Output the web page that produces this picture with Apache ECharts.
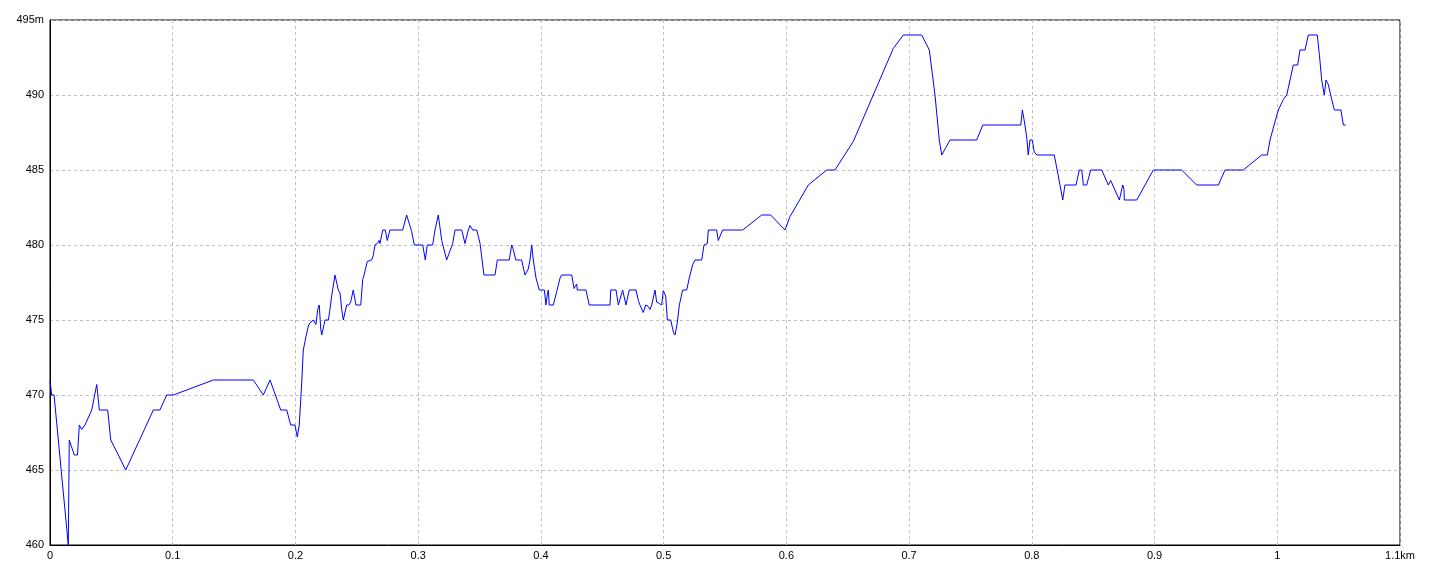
<!DOCTYPE html>
<html>
<head>
<meta charset="utf-8">
<script src="https://cdn.jsdelivr.net/npm/echarts@6/dist/echarts.min.js"></script>
<style>
html,body{margin:0;padding:0;background:#fff;}
#chart{width:1440px;height:576px;}
</style>
</head>
<body>
<div id="chart"></div>
<script>
// Distance along the track (km)
const distKm = [
0,0.0014,0.0033,0.0149,0.0157,0.0198,0.0224,0.0239,0.0258,0.0285,0.0340,0.0381,0.0402,0.0470,0.0495,0.0557,0.0617,0.0842,0.0896,0.0951,0.1005,0.1331,0.1657,0.1738,0.1793,0.1880,0.1929,0.1961,0.1996,0.2015,0.2031,0.2051,0.2059,0.2064,0.2086,0.2105,0.2118,0.2145,0.2167,0.2181,0.2194,0.2206,0.2214,0.2233,0.2241,0.2268,0.2281,0.2295,0.2322,0.2349,0.2363,0.2377,0.2390,0.2406,0.2417,0.2436,0.2450,0.2471,0.2493,0.2532,0.2548,0.2559,0.2575,0.2585,0.2621,0.2634,0.2648,0.2667,0.2681,0.2689,0.2711,0.2732,0.2748,0.2770,0.2874,0.2906,0.2919,0.2947,0.2968,0.3037,0.3058,0.3074,0.3118,0.3137,0.3164,0.3192,0.3232,0.3245,0.3281,0.3300,0.3355,0.3381,0.3408,0.3422,0.3444,0.3477,0.3504,0.3536,0.3626,0.3645,0.3742,0.3762,0.3775,0.3795,0.3843,0.3870,0.3897,0.3911,0.3925,0.3938,0.3960,0.3987,0.4028,0.4041,0.4052,0.4060,0.4068,0.4101,0.4129,0.4156,0.4169,0.4251,0.4270,0.4278,0.4292,0.4296,0.4367,0.4394,0.4563,0.4569,0.4612,0.4631,0.4666,0.4693,0.4720,0.4775,0.4794,0.4807,0.4834,0.4854,0.4875,0.4889,0.4903,0.4916,0.4930,0.4943,0.4965,0.4984,0.4997,0.5017,0.5030,0.5058,0.5079,0.5093,0.5111,0.5128,0.5155,0.5188,0.5209,0.5237,0.5256,0.5310,0.5329,0.5356,0.5364,0.5432,0.5445,0.5481,0.5644,0.5799,0.5872,0.5989,0.6030,0.6179,0.6329,0.6396,0.6545,0.6708,0.6871,0.6953,0.7103,0.7165,0.7211,0.7246,0.7266,0.7333,0.7551,0.7600,0.7910,0.7923,0.7944,0.7958,0.7971,0.7985,0.8004,0.8020,0.8040,0.8183,0.8216,0.8252,0.8270,0.8360,0.8387,0.8407,0.8420,0.8447,0.8480,0.8570,0.8623,0.8643,0.8713,0.8741,0.8751,0.8754,0.8855,0.8990,0.9221,0.9343,0.9520,0.9574,0.9723,0.9873,0.9919,0.9941,0.9974,1.0009,1.0049,1.0077,1.0104,1.0131,1.0166,1.0185,1.0226,1.0253,1.0326,1.0343,1.0362,1.0383,1.0397,1.0416,1.0435,1.0465,1.0519,1.0538,1.0558
];
// Elevation (m)
const elevM = [
471,470,470,460,467,466,466,468,467.7,468,469,470.7,469,469,467,466,465,469,469,470,470,471,471,470,471,469,469,468,468,467.2,468,470.8,472.2,473,473.9,474.6,474.8,475,474.7,475.7,476,474.4,474,474.7,475,475,475.7,476.6,478,477,476.8,475.7,475,475,476,476,476.2,477,476,476,477.7,478,478,478.9,479,479.3,480,480.1,480.3,480.1,481,481,480.3,481,481,482,481.9,480.9,480,480,479,480,480,481,482,480.3,479,479,480.1,481,481,480.1,481,481.3,481,481,480.1,478,478,479,479,480,479.7,479,479,478,478.4,479,480,479,477.8,477,477,476,476.7,477,476,476,476.9,477.8,478,478,477.1,477,477.4,477,477,476,476,477,477,476,477,476,477,477,476.3,476,475.5,476,475.9,475.7,476,476,477,476.2,476.1,476,476.95,476.6,475,475,474.2,474,474.8,476,477,477,477.8,478.7,479,479,480,480.1,481,481,480.3,481,481,482,482,481,481.9,484,485,485,486.9,490,493.1,494,494,493,490,487,486,487,487,488,488,489,488,487.2,486,487,487,486.2,486,486,484.6,483,484,484,485,485,484,484,485,485,484,484.3,483,484,483.7,483,483,485,485,484,484,485,485,486,486,487,488,489,489.7,490,491,492,492,493,493,494,494,492.7,491,490,491,490.7,490,489,489,488,488
];
// Axis ticks
const xTicks = [0,0.1,0.2,0.3,0.4,0.5,0.6,0.7,0.8,0.9,1,1.1];
const yTicks = [460,465,470,475,480,485,490,495];
const xUnit = 'km';
const yUnit = 'm';

const points = distKm.map((d,i)=>[d, elevM[i]]);
const chart = echarts.init(document.getElementById('chart'), null, {renderer:'canvas'});
const font = '"Liberation Sans", Arial, sans-serif';
chart.setOption({
  animation:false,
  backgroundColor:'#fff',
  grid:{left:50, top:20, right:40, bottom:31, show:true, borderColor:'#000', borderWidth:1, backgroundColor:'transparent'},
  xAxis:{
    type:'value', min:xTicks[0], max:xTicks[xTicks.length-1], interval:0.1,
    axisLine:{show:true, lineStyle:{color:'#000', width:1}},
    axisTick:{show:false},
    axisLabel:{color:'#000', fontFamily:font, fontSize:11, margin:5,
      formatter:(v)=>{ const r=Math.round(v*10)/10; return r===xTicks[xTicks.length-1] ? r+xUnit : String(r); }},
    splitLine:{show:true, lineStyle:{color:'#c0c0c0', type:[3,3], width:1}}
  },
  yAxis:{
    type:'value', min:yTicks[0], max:yTicks[yTicks.length-1], interval:5,
    axisLine:{show:true, lineStyle:{color:'#000', width:1}},
    axisTick:{show:false},
    axisLabel:{color:'#000', fontFamily:font, fontSize:11, margin:6,
      formatter:(v)=> v===yTicks[yTicks.length-1] ? v+yUnit : String(v)},
    splitLine:{show:true, lineStyle:{color:'#c0c0c0', type:[3,3], width:1}}
  },
  series:[{
    type:'line', data:points, showSymbol:false, symbol:'none', smooth:false,
    lineStyle:{color:'#0000ff', width:1}, z:3
  }]
});
</script>
</body>
</html>
